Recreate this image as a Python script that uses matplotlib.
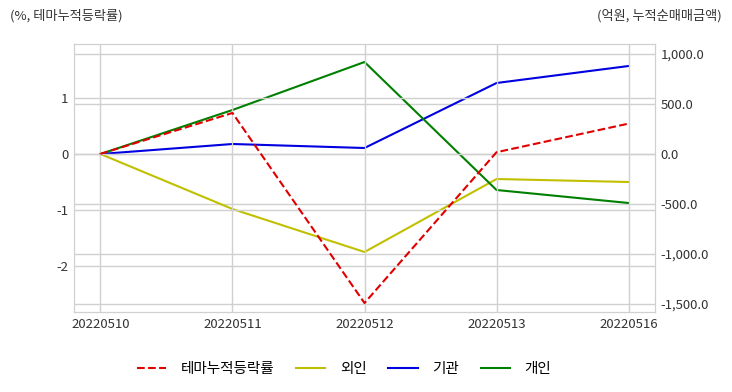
import matplotlib.pyplot as plt
from matplotlib.ticker import FuncFormatter

plt.rcParams['font.family'] = ['Noto Sans CJK KR', 'DejaVu Sans']
plt.rcParams['axes.unicode_minus'] = False

dates = ['20220510', '20220511', '20220512', '20220513', '20220516']
theme_rate = [0.0, 0.73, -2.66, 0.03, 0.54]
foreign = [0, -550, -980, -250, -280]
institution = [0, 100, 60, 710, 880]
individual = [0, 440, 920, -360, -490]

fig = plt.figure(figsize=(7.32, 3.92), dpi=100)
ax = fig.add_axes([74 / 732, 1 - 312 / 392, (655 - 74) / 732, (312 - 44) / 392])
ax2 = ax.twinx()

x = list(range(len(dates)))
l1, = ax.plot(x, theme_rate, color='#e00000', linestyle='--', linewidth=1.5, label='테마누적등락률')
l2, = ax2.plot(x, foreign, color='#c0c000', linewidth=1.5, label='외인')
l3, = ax2.plot(x, institution, color='#0000e0', linewidth=1.5, label='기관')
l4, = ax2.plot(x, individual, color='#008000', linewidth=1.5, label='개인')

ax.set_xlim(-0.2, 4.2)
ax.set_ylim(-2.82, 1.96)
ax2.set_ylim(-1580, 1100)
ax.set_yticks([-2, -1, 0, 1])
ax2.set_yticks([-1500, -1000, -500, 0, 500, 1000])
ax2.yaxis.set_major_formatter(FuncFormatter(lambda v, p: f'{v:,.1f}'))
ax.set_xticks(x)
ax.set_xticklabels(dates)

grid_c = '#d0d0d0'
ax.grid(True, color=grid_c, linewidth=1)
ax2.grid(True, axis='y', color=grid_c, linewidth=1)
ax.set_axisbelow(True)
ax2.set_axisbelow(True)
ax.set_zorder(ax2.get_zorder() + 1)
ax.patch.set_visible(False)

for a in (ax, ax2):
    for s in a.spines.values():
        s.set_color(grid_c)
    a.tick_params(length=0, labelsize=9.5, colors='#333333', pad=4)

fig.text(10 / 732, 1 - 16 / 392, '(%, 테마누적등락률)', fontsize=9.5, color='#333333', va='center')
fig.text(722 / 732, 1 - 16 / 392, '(억원, 누적순매매금액)', fontsize=9.5, color='#333333', va='center', ha='right')

fig.legend(handles=[l1, l2, l3, l4], loc='center', bbox_to_anchor=(344 / 732, 1 - 369 / 392),
           ncol=4, frameon=False, fontsize=10.5, handlelength=2.0, columnspacing=1.5, handletextpad=1.0)

fig.savefig('out.png', dpi=100)
